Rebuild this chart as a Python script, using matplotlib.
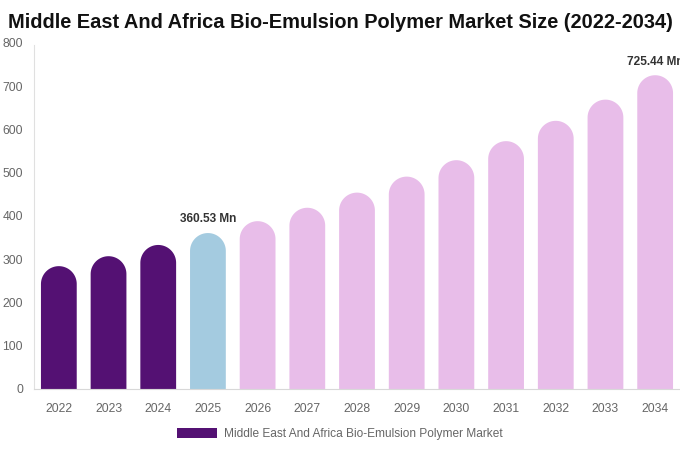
import matplotlib
matplotlib.use("Agg")
import numpy as np
import matplotlib.pyplot as plt
from matplotlib.patches import Polygon, Patch

plt.rcParams['font.family'] = ['Liberation Sans', 'DejaVu Sans']

years = ["2022", "2023", "2024", "2025", "2026", "2027", "2028", "2029", "2030", "2031", "2032", "2033", "2034"]
values = [284, 307, 333, 360.53, 388, 419, 454, 491, 529, 573, 620, 669, 725.44]
colors = ["#541173"] * 3 + ["#A4CBE0"] + ["#E8BDE9"] * 9
labels = {3: "360.53 Mn", 12: "725.44 Mn"}
series_name = "Middle East And Africa Bio-Emulsion Polymer Market"

fig = plt.figure(figsize=(6.8, 4.5), dpi=100)
ax = fig.add_axes([0.05, 0.1356, 0.95, 0.7689])
ax.set_xlim(-0.5, len(years) - 0.5)
ax.set_ylim(0, 800)

# pixel scale to make circular caps
ax_w_px = 0.95 * 680
ax_h_px = 0.7689 * 450
px_per_x = ax_w_px / len(years)
px_per_y = ax_h_px / 800
w = 0.72
rx = w / 2
ry = rx * px_per_x / px_per_y
theta = np.linspace(0, np.pi, 60)

for i, (v, c) in enumerate(zip(values, colors)):
    cy = v - ry
    arc_x = i + rx * np.cos(theta)
    arc_y = cy + ry * np.sin(theta)
    xs = np.concatenate([[i + rx], arc_x, [i - rx]])
    ys = np.concatenate([[0], arc_y, [0]])
    ax.add_patch(Polygon(np.column_stack([xs, ys]), closed=True, facecolor=c,
                         edgecolor='none', linewidth=0))
    if i in labels:
        ax.annotate(labels[i], (i, v), xytext=(0, 5.5), textcoords='offset points',
                    ha='center', va='bottom', fontsize=8.6, fontweight='bold', color='#333333',
                    annotation_clip=False)

ax.set_xticks(range(len(years)))
ax.set_xticklabels(years)
ax.set_yticks(range(0, 801, 100))
ax.tick_params(axis='both', length=0, labelsize=8.7, colors='#666666')
ax.tick_params(axis='y', pad=8)
ax.tick_params(axis='x', pad=10)
for s in ['top', 'right']:
    ax.spines[s].set_visible(False)
ax.spines['left'].set_color('#e0e0e0')
ax.spines['bottom'].set_color('#d8d8d8')
ax.spines['left'].set_bounds(0, 795)

fig.text(0.5, 0.95, "Middle East And Africa Bio-Emulsion Polymer Market Size (2022-2034)",
         ha='center', va='center', fontsize=14.4, fontweight='bold', color='#111111')

leg = fig.legend(handles=[Patch(facecolor="#541173", edgecolor='none', label=series_name)],
                 loc='center', bbox_to_anchor=(0.5, 0.036), frameon=False, fontsize=8.6,
                 handlelength=3.3, handleheight=0.9, handletextpad=0.6)
for t in leg.get_texts():
    t.set_color('#666666')

fig.savefig("out.png", dpi=100)
